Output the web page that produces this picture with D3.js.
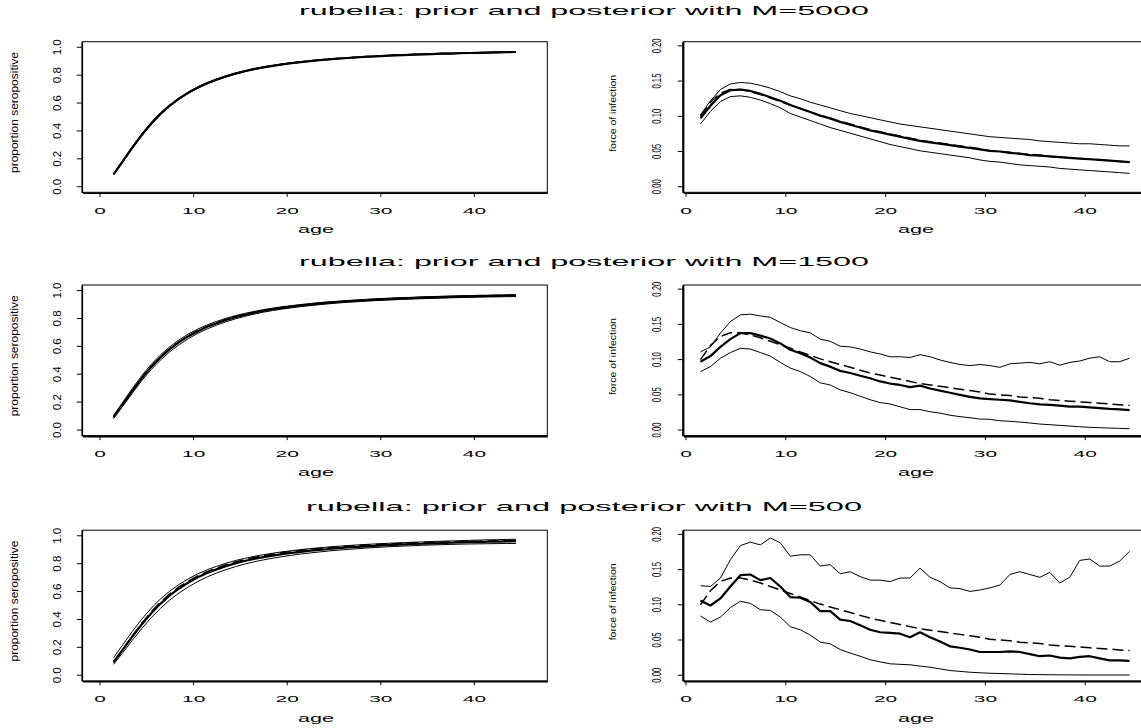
<!DOCTYPE html>
<html lang="en">
<head>
<meta charset="utf-8">
<script src="https://d3js.org/d3.v7.min.js"></script>
<title>rubella prior and posterior</title>
<style>
  body { margin: 0; background: #fff; }
  text { font-family: "Liberation Sans", Arial, sans-serif; fill: #000; }
  .axis path, .axis line { stroke: #000; }
</style>
</head>
<body>
<svg width="1141" height="728"></svg>
<script>
// ages at which the curves are evaluated
var ages = [1.5,2.5,3.5,4.5,5.5,6.5,7.5,8.5,9.5,10.5,11.5,12.5,13.5,14.5,15.5,16.5,17.5,18.5,19.5,20.5,21.5,22.5,
            23.5,24.5,25.5,26.5,27.5,28.5,29.5,30.5,31.5,32.5,33.5,34.5,35.5,36.5,37.5,38.5,39.5,40.5,41.5,42.5,43.5,44.5];

var sampleSizes = [5000, 1500, 500];
var xTicks = [0, 10, 20, 30, 40];
var propTicks = [0, 0.2, 0.4, 0.6, 0.8, 1.0];
var propTickLabels = ["0.0", "0.2", "0.4", "0.6", "0.8", "1.0"];
var focTicks = [0, 0.05, 0.10, 0.15, 0.20];
var focTickLabels = ["0.00", "0.05", "0.10", "0.15", "0.20"];

// proportion seropositive (left column)
var propPrior = [0.090,0.185,0.281,0.372,0.453,0.523,0.583,0.633,0.676,0.712,0.743,0.769,0.792,0.812,0.829,0.844,0.857,0.868,0.878,0.887,0.895,0.902,
                 0.909,0.914,0.920,0.924,0.929,0.933,0.936,0.940,0.943,0.945,0.948,0.950,0.952,0.955,0.956,0.958,0.960,0.961,0.963,0.964,0.966,0.967];
var propMed5000 = [0.089,0.184,0.280,0.371,0.452,0.522,0.582,0.632,0.675,0.711,0.742,0.768,0.791,0.811,0.828,0.843,0.856,0.867,0.877,0.886,0.894,0.901,
                   0.908,0.913,0.919,0.923,0.928,0.932,0.935,0.939,0.942,0.944,0.947,0.949,0.951,0.954,0.955,0.957,0.959,0.960,0.962,0.963,0.965,0.966];
var propLow5000 = [0.085,0.178,0.273,0.364,0.445,0.515,0.576,0.627,0.670,0.706,0.738,0.764,0.787,0.807,0.825,0.840,0.853,0.865,0.875,0.884,0.892,0.899,
                   0.906,0.911,0.917,0.921,0.926,0.930,0.933,0.937,0.940,0.942,0.945,0.947,0.949,0.952,0.953,0.955,0.957,0.958,0.960,0.961,0.963,0.964];
var propHigh5000 = [0.093,0.190,0.287,0.378,0.459,0.529,0.588,0.637,0.680,0.716,0.747,0.772,0.795,0.815,0.832,0.847,0.860,0.870,0.880,0.889,0.897,0.904,
                    0.911,0.916,0.922,0.926,0.931,0.935,0.938,0.942,0.945,0.947,0.950,0.952,0.954,0.957,0.958,0.960,0.962,0.963,0.965,0.966,0.968,0.969];
var propMed1500 = [0.092,0.186,0.281,0.371,0.451,0.520,0.580,0.630,0.673,0.709,0.740,0.766,0.789,0.809,0.826,0.841,0.854,0.866,0.876,0.885,0.893,0.900,
                   0.907,0.913,0.918,0.923,0.927,0.931,0.935,0.938,0.941,0.944,0.946,0.949,0.951,0.953,0.955,0.957,0.958,0.960,0.961,0.962,0.963,0.964];
var propLow1500 = [0.082,0.172,0.264,0.353,0.432,0.501,0.561,0.612,0.656,0.693,0.725,0.752,0.776,0.797,0.815,0.831,0.845,0.857,0.867,0.876,0.885,0.892,
                   0.899,0.905,0.911,0.916,0.920,0.924,0.928,0.931,0.934,0.937,0.940,0.942,0.944,0.946,0.948,0.950,0.951,0.953,0.954,0.955,0.956,0.957];
var propHigh1500 = [0.104,0.201,0.298,0.389,0.469,0.538,0.597,0.647,0.689,0.724,0.754,0.779,0.801,0.820,0.836,0.850,0.863,0.874,0.884,0.892,0.900,0.907,
                    0.914,0.919,0.924,0.929,0.933,0.937,0.941,0.944,0.947,0.950,0.952,0.955,0.957,0.959,0.961,0.963,0.964,0.966,0.967,0.968,0.969,0.970];
var propMed500 = [0.095,0.186,0.277,0.364,0.443,0.512,0.572,0.622,0.665,0.702,0.733,0.759,0.782,0.802,0.819,0.834,0.847,0.858,0.868,0.877,0.885,0.893,
                  0.899,0.905,0.911,0.916,0.920,0.924,0.928,0.932,0.935,0.938,0.941,0.943,0.946,0.948,0.950,0.952,0.954,0.955,0.957,0.958,0.960,0.961];
var propLow500 = [0.078,0.163,0.250,0.334,0.411,0.479,0.539,0.590,0.634,0.672,0.705,0.733,0.757,0.778,0.797,0.813,0.827,0.839,0.850,0.860,0.869,0.877,
                  0.884,0.891,0.897,0.902,0.907,0.912,0.916,0.920,0.923,0.926,0.929,0.932,0.934,0.936,0.938,0.940,0.941,0.942,0.943,0.944,0.945,0.945];
var propHigh500 = [0.125,0.220,0.314,0.401,0.479,0.546,0.603,0.651,0.692,0.727,0.756,0.781,0.803,0.822,0.838,0.852,0.864,0.875,0.885,0.893,0.901,0.908,
                   0.914,0.920,0.925,0.930,0.934,0.938,0.942,0.945,0.948,0.951,0.954,0.956,0.959,0.961,0.963,0.965,0.967,0.969,0.971,0.972,0.974,0.975];

// force of infection (right column)
var focPrior = [0.100,0.120,0.133,0.138,0.138,0.135,0.131,0.126,0.121,0.116,0.111,0.106,0.101,0.097,0.093,0.089,0.085,0.081,0.078,0.075,0.072,0.069,
                0.066,0.064,0.062,0.060,0.058,0.056,0.054,0.051,0.050,0.049,0.047,0.046,0.045,0.043,0.042,0.041,0.040,0.039,0.038,0.037,0.036,0.035];
var focMed5000 = [0.097,0.115,0.130,0.137,0.138,0.136,0.132,0.127,0.122,0.116,0.111,0.106,0.101,0.097,0.092,0.088,0.084,0.080,0.077,0.074,0.071,0.068,
                  0.065,0.063,0.061,0.059,0.057,0.055,0.053,0.051,0.050,0.048,0.047,0.045,0.044,0.043,0.042,0.041,0.040,0.039,0.038,0.037,0.036,0.035];
var focLow5000 = [0.089,0.107,0.121,0.128,0.129,0.127,0.123,0.118,0.112,0.104,0.099,0.094,0.089,0.084,0.080,0.076,0.072,0.068,0.064,0.060,0.057,0.054,
                  0.051,0.049,0.047,0.045,0.043,0.041,0.038,0.036,0.035,0.033,0.031,0.030,0.029,0.028,0.026,0.025,0.024,0.023,0.022,0.021,0.020,0.019];
var focHigh5000 = [0.102,0.122,0.138,0.146,0.148,0.147,0.144,0.140,0.135,0.129,0.125,0.120,0.116,0.112,0.108,0.104,0.101,0.098,0.095,0.092,0.089,0.087,
                   0.085,0.083,0.081,0.079,0.077,0.075,0.073,0.071,0.070,0.069,0.068,0.067,0.065,0.064,0.063,0.062,0.061,0.061,0.060,0.059,0.058,0.058];
var focMed1500 = [0.097,0.105,0.118,0.129,0.1375,0.1375,0.134,0.130,0.123,0.114,0.109,0.103,0.095,0.090,0.084,0.081,0.077,0.0735,0.069,0.066,0.064,0.061,
                  0.063,0.059,0.056,0.053,0.050,0.047,0.045,0.044,0.043,0.042,0.040,0.038,0.0365,0.0356,0.0346,0.0332,0.0332,0.0323,0.031,0.030,0.0294,0.0284];
var focLow1500 = [0.083,0.090,0.102,0.110,0.116,0.115,0.110,0.105,0.096,0.088,0.083,0.076,0.067,0.064,0.057,0.053,0.048,0.043,0.039,0.037,0.033,0.029,
                  0.029,0.026,0.024,0.021,0.019,0.0175,0.0156,0.0152,0.0132,0.0124,0.0114,0.010,0.0085,0.0076,0.0066,0.0057,0.0047,0.0038,0.0033,0.0028,0.0024,0.0019];
var focHigh1500 = [0.111,0.118,0.1375,0.154,0.1635,0.1645,0.162,0.160,0.1526,0.1455,0.141,0.138,0.129,0.126,0.119,0.118,0.115,0.111,0.108,0.104,0.104,0.103,
                   0.107,0.104,0.0995,0.096,0.093,0.0915,0.093,0.0915,0.089,0.094,0.095,0.096,0.094,0.097,0.092,0.096,0.098,0.102,0.104,0.097,0.097,0.102];
var focMed500 = [0.106,0.099,0.109,0.126,0.142,0.143,0.135,0.138,0.126,0.111,0.110,0.104,0.091,0.091,0.079,0.077,0.071,0.0645,0.061,0.060,0.059,0.054,
                 0.061,0.054,0.048,0.041,0.039,0.0365,0.033,0.033,0.033,0.034,0.033,0.030,0.027,0.028,0.025,0.024,0.026,0.027,0.024,0.021,0.021,0.0205];
var focLow500 = [0.084,0.0754,0.0825,0.096,0.105,0.102,0.093,0.092,0.0825,0.069,0.0645,0.057,0.047,0.0446,0.0365,0.0315,0.027,0.022,0.019,0.0162,0.0155,0.0148,
                 0.013,0.0114,0.009,0.0067,0.0055,0.0043,0.0035,0.0028,0.0024,0.002,0.0015,0.001,0.0009,0.0007,0.0006,0.0005,0.0004,0.0003,0.0003,0.0003,0.0003,0.0003];
var focHigh500 = [0.127,0.126,0.138,0.164,0.184,0.189,0.185,0.195,0.188,0.169,0.171,0.171,0.155,0.157,0.144,0.147,0.140,0.135,0.135,0.133,0.138,0.138,
                  0.152,0.139,0.133,0.124,0.123,0.119,0.121,0.124,0.128,0.143,0.147,0.143,0.139,0.146,0.131,0.139,0.163,0.165,0.155,0.155,0.162,0.176];

var rows = [
  {m: sampleSizes[0], prop: [propLow5000, propHigh5000, propMed5000], foc: [focLow5000, focHigh5000, focMed5000]},
  {m: sampleSizes[1], prop: [propLow1500, propHigh1500, propMed1500], foc: [focLow1500, focHigh1500, focMed1500]},
  {m: sampleSizes[2], prop: [propLow500, propHigh500, propMed500], foc: [focLow500, focHigh500, focMed500]}
];

var svg = d3.select("svg");
var rowTop = [0, 243.3, 488.5],
    titleY = [14.5, 23.2, 22.4],
    boxTop = 41.7, boxBottom = 192.3;

function drawPanel(g, o) {
  var x = d3.scaleLinear().domain(o.xdom).range([o.x0, o.x1]);
  var y = d3.scaleLinear().domain(o.ydom).range([boxBottom, boxTop]);

  g.append("rect")
      .attr("x", o.x0).attr("y", boxTop)
      .attr("width", o.x1 - o.x0).attr("height", boxBottom - boxTop)
      .attr("fill", "none").attr("stroke", "#000").attr("stroke-width", 1);

  var xa = g.append("g")
      .attr("class", "axis")
      .attr("transform", "translate(0," + (boxBottom + 0.5) + ")")
      .call(d3.axisBottom(x).tickValues(xTicks).tickSize(4).tickSizeOuter(0));
  xa.select(".domain").attr("stroke-width", 1.6);
  xa.selectAll("text")
      .attr("y", 21).attr("dy", 0)
      .attr("transform", "scale(2.2,1)")
      .style("font-size", "9.5px")
      .text(function(d) { return d; });

  var ya = g.append("g")
      .attr("class", "axis")
      .attr("transform", "translate(" + (o.x0 - 0.5) + ",0)")
      .call(d3.axisLeft(y).tickValues(o.ticks).tickSize(5).tickSizeOuter(0));
  ya.select(".domain").attr("stroke-width", o.axisW);
  ya.selectAll("text")
      .attr("x", null).attr("dy", 0)
      .attr("text-anchor", "middle")
      .attr("transform", function(d) { return "translate(" + o.labX + "," + y(d) + ") rotate(-90)"; })
      .attr("y", 0)
      .style("font-size", o.labSize + "px")
      .attr("textLength", o.labLen).attr("lengthAdjust", "spacingAndGlyphs")
      .text(function(d, i) { return o.labels[i]; });
  // rotated labels are placed with a transform, so drop the tick offset
  ya.selectAll(".tick").attr("transform", null);
  ya.selectAll(".tick line").attr("transform", function(d) { return "translate(0," + y(d) + ")"; });

  g.append("text")
      .attr("x", o.ageX).attr("y", 233)
      .attr("text-anchor", "middle")
      .style("font-size", "11px")
      .attr("textLength", 36).attr("lengthAdjust", "spacingAndGlyphs")
      .text("age");

  g.append("text")
      .attr("transform", "translate(" + o.titleX + "," + o.titleCy + ") rotate(-90)")
      .attr("text-anchor", "middle")
      .style("font-size", o.titleSize + "px")
      .attr("textLength", o.titleLen).attr("lengthAdjust", "spacingAndGlyphs")
      .text(o.title);

  var line = d3.line()
      .x(function(d, i) { return x(ages[i]); })
      .y(function(d) { return y(d); });

  o.series.forEach(function(s, i) {
    g.append("path")
        .datum(s)
        .attr("fill", "none")
        .attr("stroke", "#000")
        .attr("stroke-width", i == 2 ? 2.2 : 1)
        .attr("stroke-linejoin", "round")
        .attr("d", line);
  });

  g.append("path")
      .datum(o.prior)
      .attr("fill", "none")
      .attr("stroke", "#000")
      .attr("stroke-width", 1.5)
      .attr("stroke-dasharray", "11,5")
      .attr("d", line);
}

rows.forEach(function(r, i) {
  var g = svg.append("g").attr("transform", "translate(0," + rowTop[i] + ")");

  var title = "rubella: prior and posterior with M=" + r.m;
  var tLen = r.m >= 1000 ? 570 : 556;
  g.append("text")
      .attr("x", 584 - tLen / 2).attr("y", titleY[i])
      .style("font-size", "13px")
      .attr("textLength", tLen).attr("lengthAdjust", "spacingAndGlyphs")
      .text(title);

  drawPanel(g, {
    x0: 82.3, x1: 547.3, xdom: [-1.84, 47.84], ydom: [-0.04, 1.04],
    ticks: propTicks, labels: propTickLabels, labX: -21, labSize: 11, labLen: 16, axisW: 1.6,
    ageX: 316, title: "proportion seropositive", titleX: 17.5, titleCy: 112.5, titleSize: 10, titleLen: 121,
    series: r.prop, prior: propPrior
  });

  drawPanel(g, {
    x0: 683.3, x1: 1146.8, xdom: [-0.22, 46.22], ydom: [-0.0079, 0.2059],
    ticks: focTicks, labels: focTickLabels, labX: -21.6, labSize: 12, labLen: 15, axisW: 2.2,
    ageX: 916, title: "force of infection", titleX: 616, titleCy: 113.3, titleSize: 8.5, titleLen: 77,
    series: r.foc, prior: focPrior
  });
});
</script>
</body>
</html>
